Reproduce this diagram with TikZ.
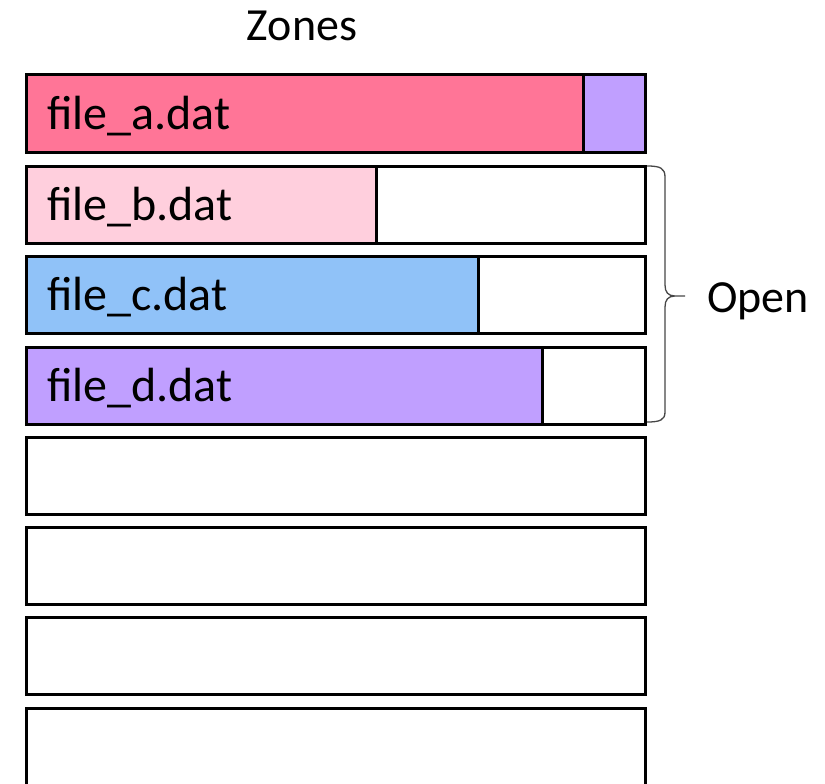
\documentclass[tikz,border=0pt]{standalone}
\usepackage{fontspec}
\setmainfont{Carlito}
\definecolor{hotpink}{RGB}{255,117,151}
\definecolor{softpink}{RGB}{255,207,221}
\definecolor{skyblue}{RGB}{144,194,248}
\definecolor{lavender}{RGB}{192,159,255}
\definecolor{bracegray}{RGB}{70,70,70}
\begin{document}
\begin{tikzpicture}[x=1pt,y=-1pt,
  zone/.style={draw=black, line width=3pt, minimum width=619pt, minimum height=77pt,
    inner sep=0pt, outer sep=0pt, anchor=north west},
  bar/.style={draw=black, line width=3pt, minimum height=77pt,
    inner sep=0pt, outer sep=0pt, anchor=north west},
  fname/.style={font=\fontsize{48}{57}\selectfont, anchor=west, inner sep=0pt},
  caption/.style={font=\fontsize{46}{55}\selectfont, inner sep=0pt}]
\clip (0,0) rectangle (825,784);

% title
\node[caption] (title) at (302,26) {Zones};

% filled portions of the zones
\node[bar, fill=hotpink,  minimum width=557pt] (bara)  at (26,75)  {};
\node[bar, fill=lavender, minimum width=62pt]  (bara2) at (583,75) {};
\node[bar, fill=softpink, minimum width=350pt] (barb)  at (26,166) {};
\node[bar, fill=skyblue,  minimum width=452pt] (barc)  at (26,256) {};
\node[bar, fill=lavender, minimum width=516pt] (bard)  at (26,347) {};

% zone outlines
\node[zone] (za) at (26,75)  {};
\node[zone] (zb) at (26,166) {};
\node[zone] (zc) at (26,256) {};
\node[zone] (zd) at (26,347) {};
\node[zone] (ze) at (26,437) {};
\node[zone] (zf) at (26,527) {};
\node[zone] (zg) at (26,617) {};
\node[zone] (zh) at (26,708) {};

% file names
\node[fname] (fa) at ([xshift=21pt,yshift=-3pt]za.west) {file\_a.dat};
\node[fname] (fb) at ([xshift=21pt,yshift=-3pt]zb.west) {file\_b.dat};
\node[fname] (fc) at ([xshift=21pt,yshift=-3pt]zc.west) {file\_c.dat};
\node[fname] (fd) at ([xshift=21pt,yshift=-3pt]zd.west) {file\_d.dat};

% brace grouping the open zones
\draw[bracegray, line width=1.3pt]
  (647,166) .. controls (660,166) and (665,168) .. (665,177) -- (665,285)
  .. controls (665,292) and (668,296) .. (675,296) -- (685,296)
  (675,296) .. controls (668,296) and (665,300) .. (665,307) -- (665,412)
  .. controls (665,420) and (660,422) .. (647,422);
\node[caption, anchor=west] (open) at (707,301) {Open};
\end{tikzpicture}
\end{document}
